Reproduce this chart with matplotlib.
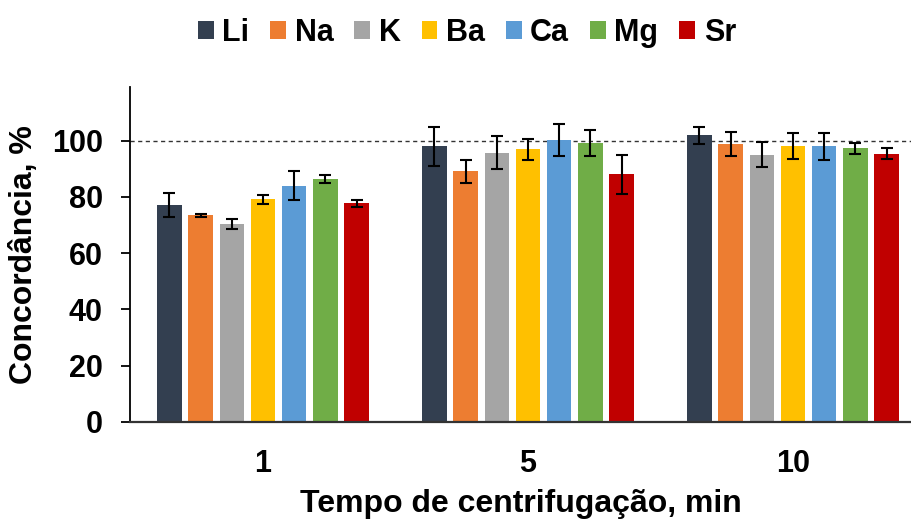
import matplotlib
matplotlib.use("Agg")
import matplotlib.pyplot as plt
import numpy as np

plt.rcParams['font.family'] = ['Liberation Sans', 'DejaVu Sans']
plt.rcParams['font.weight'] = 'bold'

tempos = ["1", "5", "10"]
elementos = ["Li", "Na", "K", "Ba", "Ca", "Mg", "Sr"]
cores = ["#333F50", "#ED7D31", "#A5A5A5", "#FFC000", "#5B9BD5", "#70AD47", "#C00000"]

# concordancia (%) por elemento, para 1, 5 e 10 min
Li = [77.0, 98.0, 101.9]
Na = [73.4, 89.1, 98.8]
K = [70.3, 95.8, 95.0]
Ba = [79.1, 97.0, 98.1]
Ca = [84.0, 100.1, 98.0]
Mg = [86.4, 99.3, 97.3]
Sr = [77.7, 88.1, 95.4]

# desvios
errLi = [4.3, 6.9, 3.1]
errNa = [0.5, 4.0, 4.2]
errK = [1.8, 6.0, 4.5]
errBa = [1.5, 3.7, 4.5]
errCa = [5.2, 5.7, 4.7]
errMg = [1.3, 4.7, 1.9]
errSr = [1.2, 6.9, 2.0]

valores = [Li, Na, K, Ba, Ca, Mg, Sr]
erros = [errLi, errNa, errK, errBa, errCa, errMg, errSr]

fig = plt.figure(figsize=(9.12, 5.2), dpi=100)
ax = fig.add_axes([0.1425, 0.189, 0.8575, 0.643])

x = np.arange(len(tempos))
passo = 0.1177
larg = 0.0925

for i in range(len(elementos)):
	pos = x + (i - 3)*passo
	ax.bar(pos, valores[i], width=larg, color=cores[i], label=elementos[i], zorder=2)
	ax.errorbar(pos, valores[i], yerr=erros[i], fmt='none', ecolor='black',
		elinewidth=1.5, capsize=4.5, capthick=1.5, zorder=3)

ax.axhline(100, color='#333333', linestyle=(0, (3, 2.5)), linewidth=1, zorder=1)

ax.set_xlim(-0.502, 2.449)
ax.set_ylim(0, 119)
ax.set_yticks([0, 20, 40, 60, 80, 100])
ax.set_xticks(x)
ax.set_xticklabels(tempos)

ax.spines['top'].set_visible(False)
ax.spines['right'].set_visible(False)
ax.spines['left'].set_linewidth(1.3)
ax.spines['bottom'].set_linewidth(1.6)
ax.spines['bottom'].set_color('#333333')

ax.tick_params(axis='x', length=0, pad=20, labelsize=22)
ax.tick_params(axis='y', length=6.5, width=1.3, pad=13, labelsize=22)
for lab in ax.get_xticklabels() + ax.get_yticklabels():
	lab.set_fontweight('bold')

ax.set_ylabel("Concordância, %", fontsize=23, fontweight='bold', labelpad=9)
ax.set_xlabel("Tempo de centrifugação, min", fontsize=23, fontweight='bold', labelpad=7)

fig.legend(loc='center', bbox_to_anchor=(0.512, 0.937), ncol=7, frameon=False,
	fontsize=22, handlelength=0.52, handleheight=0.52, handletextpad=0.28,
	columnspacing=0.68, borderaxespad=0)

plt.savefig("out.png", dpi=100)
